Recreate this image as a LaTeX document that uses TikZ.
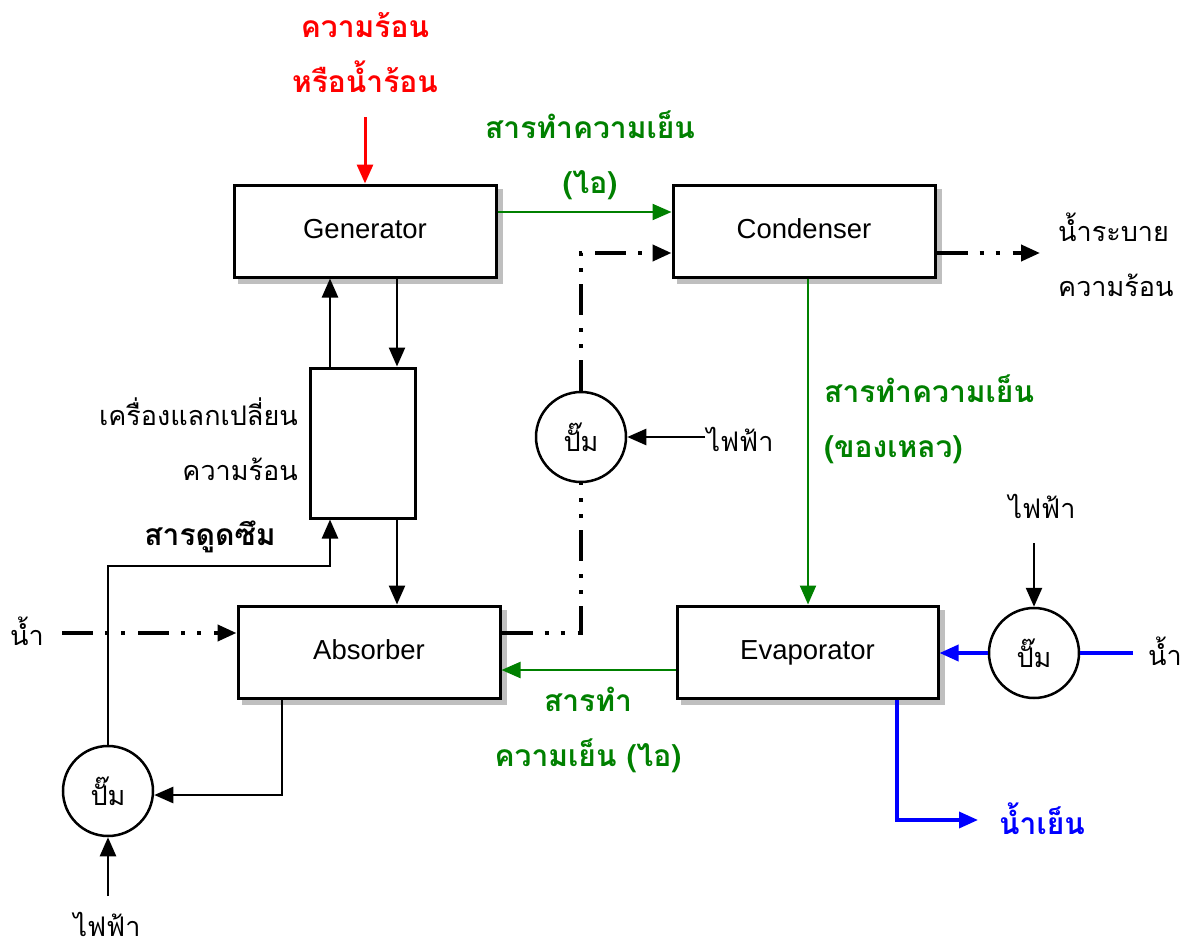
\documentclass[tikz,border=0pt]{standalone}
\usepackage{fontspec}
\setmainfont{Liberation Sans}
\newfontfamily\thai[Script=Thai]{Loma}
\usetikzlibrary{arrows.meta,backgrounds}
\definecolor{gr}{RGB}{0,128,0}
\definecolor{bl}{RGB}{0,0,255}
\definecolor{rd}{RGB}{255,0,0}
\begin{document}
\begin{tikzpicture}[x=1pt,y=-1pt,
  unit/.style={draw,line width=3,fill=white,minimum width=262,minimum height=92,
    font=\fontsize{27.5}{33}\selectfont,text height=20,text depth=6},
  shade/.style={fill=black!25},
  pumpc/.style={draw,circle,line width=2.5,fill=white,minimum size=90,inner sep=0,
    font=\thai\fontsize{27}{33}\selectfont},
  tip/.style={-{Triangle[length=19,width=16]}},
  arr/.style={tip,line width=2.5,black},
  garr/.style={tip,line width=2.2,gr},
  barr/.style={tip,line width=3.5,bl},
  dd/.style={line width=4,dash pattern=on 31 off 12 on 4 off 12 on 4 off 13},
  th/.style={font=\thai\fontsize{27}{55}\selectfont,inner sep=0},
  thb/.style={font=\thai\bfseries\fontsize{30}{55}\selectfont,inner sep=0},
]
\useasboundingbox (0,0) rectangle (1195,950);
% units
\node[unit] (gen) at (365,231) {Generator};
\node[unit] (con) at (804,231) {Condenser};
\node[unit,minimum width=105,minimum height=150] (hx) at (362.5,443) {};
\node[unit] (abs) at (369,652) {Absorber};
\node[unit,minimum width=261] (eva) at (807.5,652) {Evaporator};
\begin{scope}[on background layer]
  \foreach \n in {gen,con,abs,eva}
    \fill[shade] ([shift={(5,5)}]\n.north west) rectangle ([shift={(5,5)}]\n.south east);
\end{scope}
% pumps
\node[pumpc] (pm) at (581,437) {ปั๊ม};
\node[pumpc] (pl) at (108,791) {ปั๊ม};
\node[pumpc] (pr) at (1034,653) {ปั๊ม};
% labels
\node[thb,text=rd,align=center] (heat) at (365,53) {ความร้อน\\หรือน้ำร้อน};
\coordinate (heatend) at (365,117);
\node[thb,text=gr,align=center] (vap1) at (590,155) {สารทำความเย็น\\(ไอ)};
\node[th,align=left,anchor=west] (drain) at (1058,255) {น้ำระบาย\\ความร้อน};
\coordinate (drainend) at (1040,253);
\node[thb,text=gr,align=left,anchor=west] (liq) at (824,419) {สารทำความเย็น\\(ของเหลว)};
\node[th,align=right,anchor=east] (hxl) at (298,439) {เครื่องแลกเปลี่ยน\\ความร้อน};
\node[thb] (absl) at (210,537) {สารดูดซึม};
\node[th] (el1) at (740,439) {ไฟฟ้า};
\coordinate (el1end) at (705,437);
\node[th] (el2) at (1042,506) {ไฟฟ้า};
\coordinate (el2end) at (1034,543);
\node[th] (el3) at (107,924) {ไฟฟ้า};
\coordinate (el3end) at (108,896);
\node[th] (w1) at (27,631) {น้ำ};
\coordinate (w1end) at (62,633);
\node[th] (w2) at (1165,651) {น้ำ};
\coordinate (w2end) at (1133,653);
\node[thb,text=gr,align=center] (vap2) at (588,730) {สารทำ\\ความเย็น (ไอ)};
\node[thb,text=bl] (cold) at (1042,819) {น้ำเย็น};
\coordinate (coldend) at (978,820);
% connectors
\draw[tip,line width=3,rd] (heatend) -- (gen.north);
\draw[garr] (gen.east |- 0,212) -- (con.west |- 0,212);
\draw[garr] (con.south -| 808,0) -- (eva.north -| 808,0);
\draw[garr] (eva.west |- 0,670) -- (abs.east |- 0,670);
\draw[arr] (hx.north -| 330,0) -- (gen.south -| 330,0);
\draw[arr] (gen.south -| 397,0) -- (hx.north -| 397,0);
\draw[arr] (hx.south -| 397,0) -- (abs.north -| 397,0);
\draw[arr] (abs.south -| 282,0) -- (282,795) -- (pl.east |- 0,795);
\draw[arr] (pl.north) -- (pl.north |- 0,566) -- (330,566) -- (hx.south -| 330,0);
\draw[arr] (el3end) -- (pl.south);
\draw[arr] (el1end) -- (pm.east);
\draw[arr] (el2end) -- (pr.north);
\draw[dd] (abs.east |- 0,633) -- (pm.south |- 0,633) -- (pm.south);
\draw[dd,tip] (pm.north) -- (pm.north |- 0,253) -- (con.west |- 0,253);
\draw[dd,tip] (con.east |- 0,253) -- (drainend);
\draw[dd,tip] (w1end) -- (abs.west |- 0,633);
\draw[line width=3.5,bl] (w2end) -- (pr.east);
\draw[barr] (pr.west) -- (eva.east |- pr.west);
\draw[barr] (eva.south -| 897,0) -- (897,820) -- (coldend);
\end{tikzpicture}
\end{document}
